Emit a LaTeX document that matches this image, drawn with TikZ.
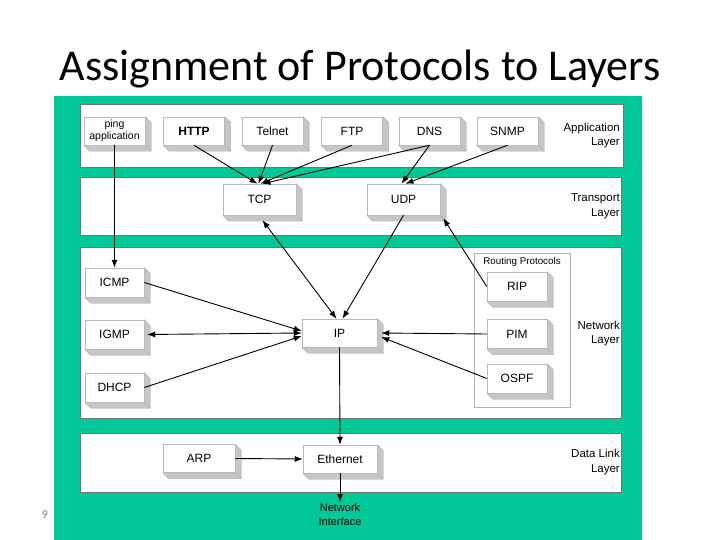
\documentclass[tikz,border=0pt]{standalone}
\usepackage{fontspec}
\setmainfont{Liberation Sans}
\newfontfamily\titlefont{Carlito}
\usetikzlibrary{arrows.meta,calc}
\definecolor{slidegreen}{RGB}{0,200,150}
\newcommand\protobox[4][]{%
  \node[pbox,#1] (#2) at (#3) {#4};
  \filldraw[pside] (#2.north east) -- ++(6,6) -- ($(#2.south east)+(6,6)$) -- ($(#2.south west)+(6,6)$) -- (#2.south west) -- (#2.south east) -- cycle;
  \draw[gray!60, line width=0.4pt] (#2.south east) -- ++(6,6);
}
\begin{document}
\begin{tikzpicture}[x=1pt,y=-1pt,
  band/.style={draw=black!55, line width=0.7pt, fill=white},
  pbox/.style={draw=gray!55, line width=0.5pt, fill=white, inner sep=0pt, align=center,
    font=\fontsize{12}{13.5}\selectfont},
  pside/.style={fill=gray!45, draw=gray!60, line width=0.4pt},
  appbox/.style={minimum width=61pt, minimum height=28pt},
  tbox/.style={minimum width=73pt, minimum height=31pt},
  nbox/.style={minimum width=59pt, minimum height=29pt},
  rbox/.style={minimum width=60pt, minimum height=29pt},
  conn/.style={line width=0.9pt, -{Latex[length=8pt,width=6pt]}},
  biconn/.style={line width=0.9pt, {Latex[length=8pt,width=6pt]}-{Latex[length=8pt,width=6pt]}},
  layerlbl/.style={align=right, anchor=east, inner sep=0pt, font=\fontsize{11.5}{14.5}\selectfont},
]
\useasboundingbox (0,0) rectangle (720,540);
\fill[white] (0,0) rectangle (720,540);
% title
\node[font=\titlefont\fontsize{44}{48}\selectfont, anchor=base, inner sep=0pt] (title) at (360,81) {Assignment of Protocols to Layers};
% green panel and bands
\fill[slidegreen] (54,96) rectangle (642,540);
\draw[band] (80,104) rectangle (623,167);
\draw[band] (80,177) rectangle (621,235);
\draw[band] (80,247) rectangle (621,418);
\draw[band] (80,433) rectangle (621,492);
\node[text=gray, font=\titlefont\fontsize{12}{12}\selectfont] (pg) at (45,515) {9};
% layer labels
\node[layerlbl] (lapp) at (620,135.5) {Application\\Layer};
\node[layerlbl] (ltra) at (620,206) {Transport\\Layer};
\node[layerlbl] (lnet) at (620,333.5) {Network\\Layer};
\node[layerlbl] (ldl) at (620,462) {Data Link\\Layer};
% routing protocols group
\draw[draw=gray!60, line width=0.6pt, fill=white] (474,253) rectangle (570,407);
\node[font=\fontsize{9.8}{11}\selectfont, inner sep=0pt] (rplbl) at (522,262) {Routing Protocols};
% application layer
\protobox[appbox, font=\fontsize{10.5}{12}\selectfont]{ping}{114.5,131}{ping\\application}
\protobox[appbox, font=\fontsize{12}{13.5}\selectfont\bfseries]{http}{194,131}{HTTP}
\protobox[appbox]{telnet}{272.5,131}{Telnet}
\protobox[appbox]{ftp}{352,131}{FTP}
\protobox[appbox]{dns}{429.5,131}{DNS}
\protobox[appbox]{snmp}{507.5,131}{SNMP}
% transport
\protobox[tbox]{tcp}{259.5,199.5}{TCP}
\protobox[tbox]{udp}{403.5,199.5}{UDP}
% network
\protobox[nbox]{icmp}{114.5,282.5}{ICMP}
\protobox[nbox]{igmp}{114.5,334.5}{IGMP}
\protobox[nbox]{dhcp}{114.5,387.5}{DHCP}
\protobox[minimum width=75pt, minimum height=28pt]{ip}{339.5,333}{IP}
\protobox[rbox]{rip}{517,286.5}{RIP}
\protobox[rbox]{pim}{517,334}{PIM}
\protobox[rbox]{ospf}{517,378.5}{OSPF}
% data link
\protobox[minimum width=72pt, minimum height=28pt]{arp}{199,458.5}{ARP}
\protobox[minimum width=74pt, minimum height=28pt]{eth}{340,459}{Ethernet}
\node[font=\fontsize{11}{14}\selectfont, align=center, anchor=north, inner sep=1pt] (ni) at (340,502) {Network\\Interface};
% connectors
\draw[conn] (ping.south) -- (icmp.north);
\draw[conn] (http.south) -- ($(tcp.north)+(-2,0)$);
\draw[conn] (telnet.south) -- ($(tcp.north)+(-1,0)$);
\draw[conn] (ftp.south) -- ($(tcp.north)+(1,0)$);
\draw[conn] (dns.south) -- ($(tcp.north)+(3,0)$);
\draw[conn] (dns.south) -- ($(udp.north)+(-2,0)$);
\draw[conn] (snmp.south) -- ($(udp.north)+(2,0)$);
\draw[biconn] ($(ip.north)+(-3,0)$) -- ($(tcp.south)+(3,5)$);
\draw[conn] (udp.south) -- ($(ip.north)+(3,0)$);
\draw[conn] (rip.west) -- ($(udp.south east)+(3,3)$);
\draw[conn] (icmp.east) -- ($(ip.west)+(0,-2)$);
\draw[biconn] ($(igmp.east)+(3,0)$) -- (ip.west);
\draw[conn] (dhcp.east) -- ($(ip.west)+(0,3)$);
\draw[conn] (pim.west) -- ($(ip.east)+(4,0)$);
\draw[conn] (ospf.west) -- ($(ip.east)+(4,4)$);
\draw[conn] (ip.south) -- (eth.north);
\draw[conn] (arp.east) -- (eth.west);
\draw[conn] (eth.south) -- (ni.north);
\end{tikzpicture}
\end{document}
